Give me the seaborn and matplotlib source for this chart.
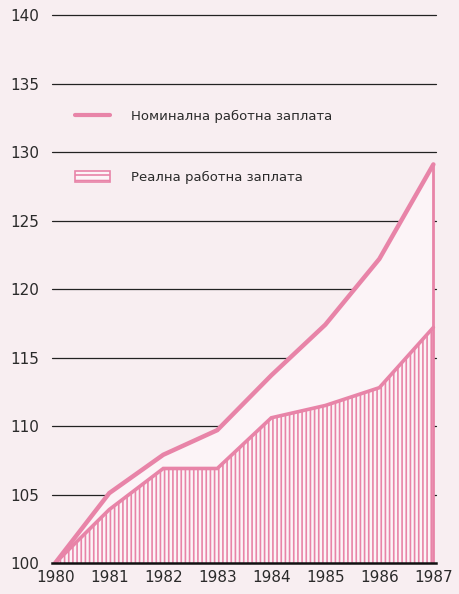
import matplotlib
matplotlib.use('Agg')
import matplotlib.pyplot as plt
import seaborn as sns
import pandas as pd
from matplotlib.lines import Line2D
from matplotlib.patches import Patch

# Index of wages, 1980 = 100
years = [1980, 1981, 1982, 1983, 1984, 1985, 1986, 1987]
nominal = [100.0, 105.1, 107.9, 109.7, 113.7, 117.4, 122.2, 129.1]
real = [100.0, 103.9, 106.9, 106.9, 110.6, 111.5, 112.8, 117.2]
yticks = [100, 105, 110, 115, 120, 125, 130, 135, 140]

label_nominal = 'Номинална работна заплата'
label_real = 'Реална работна заплата'

df = pd.DataFrame({'year': years, 'nominal': nominal, 'real': real})

pink = '#e884a8'
bg = '#f8eef1'
inner = '#fcf4f7'

sns.set_style('white')
plt.rcParams['font.family'] = ['DejaVu Sans']
plt.rcParams['hatch.color'] = pink
plt.rcParams['hatch.linewidth'] = 1.2

fig = plt.figure(figsize=(4.6, 5.94), dpi=100, facecolor=bg)
ax = fig.add_axes([0.113, 0.0522, 0.835, 0.927])
ax.set_facecolor(bg)

# gridlines drawn first so the area under the nominal line covers them
for y in yticks[1:]:
    ax.axhline(y, color='#222222', lw=0.9, zorder=1, clip_on=False)

ax.fill_between(df['year'], 100, df['nominal'], color=inner, lw=0, zorder=2)
ax.fill_between(df['year'], 100, df['real'], facecolor=inner, edgecolor=pink,
                hatch='||||', lw=0, zorder=3)

sns.lineplot(data=df, x='year', y='real', color=pink, lw=2.6, ax=ax,
             zorder=4, solid_joinstyle='miter')
sns.lineplot(data=df, x='year', y='nominal', color=pink, lw=3.2, ax=ax,
             zorder=5, solid_joinstyle='miter')
ax.vlines(years[-1], 100, nominal[-1], color=pink, lw=2.0, zorder=5)

ax.set_xlim(1979.94, 1987.05)
ax.set_ylim(100, 140.2)
ax.set_xticks(years)
ax.set_xticklabels([str(y) for y in years])
ax.set_yticks(yticks)
ax.set_xlabel('')
ax.set_ylabel('')

for s in ['top', 'right', 'left']:
    ax.spines[s].set_visible(False)
ax.spines['bottom'].set_color('#111111')
ax.spines['bottom'].set_linewidth(1.8)
ax.spines['bottom'].set_zorder(6)

ax.tick_params(axis='x', direction='in', length=7, width=1.6, color='#111111',
               pad=5, labelsize=11, labelcolor='#2a2a2a')
ax.tick_params(axis='y', length=0, pad=9, labelsize=11, labelcolor='#2a2a2a')

handles = [Line2D([0], [0], color=pink, lw=3.0),
           Patch(facecolor=inner, edgecolor=pink, hatch='---', lw=1.2)]
ax.legend(handles, [label_nominal, label_real], loc='upper left',
          bbox_to_anchor=(0.03, 0.845), frameon=False, fontsize=9.5,
          handlelength=2.6, handleheight=1.0, handletextpad=1.6,
          labelspacing=3.6, labelcolor='#2a2a2a')

fig.savefig('out.png', dpi=100, facecolor=bg)
